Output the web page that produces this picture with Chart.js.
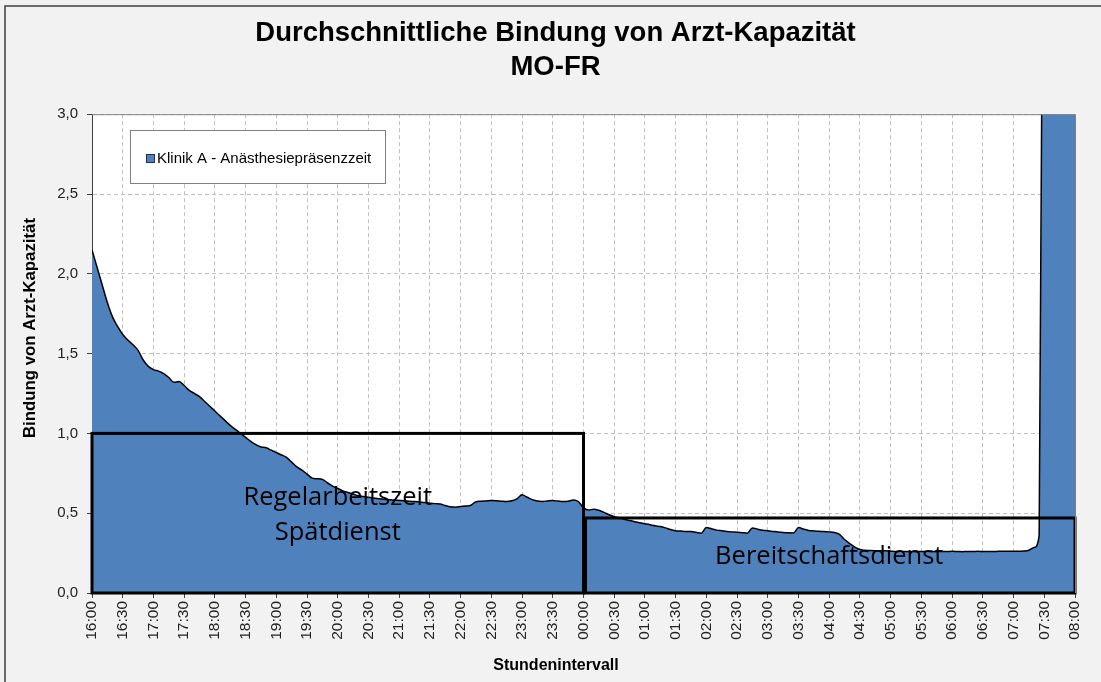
<!DOCTYPE html>
<html>
<head>
<meta charset="utf-8">
<script src="https://cdn.jsdelivr.net/npm/chart.js@4.4.1/dist/chart.umd.min.js"></script>
<style>
  html, body { margin: 0; padding: 0; background: #f2f2f2; }
  canvas { display: block; }
</style>
</head>
<body>
<canvas id="myChart" width="1101" height="682"></canvas>
<script>
// chart text
const titleLines = ['Durchschnittliche Bindung von Arzt-Kapazität', 'MO-FR'];
const yAxisTitle = 'Bindung von Arzt-Kapazität';
const xAxisTitle = 'Stundenintervall';
const seriesName = 'Klinik A - Anästhesiepräsenzzeit';
const yTickLabels = ['0,0', '0,5', '1,0', '1,5', '2,0', '2,5', '3,0'];

// 5-minute steps from 16:00 to 08:00
const times = [];
for (let m = 0; m <= 960; m += 5) {
  const h = (16 + Math.floor(m / 60)) % 24;
  times.push(String(h).padStart(2, '0') + ':' + String(m % 60).padStart(2, '0'));
}

// one row per hour (12 x 5 min)
const values = [
  2.15, 2.04, 1.93, 1.82, 1.73, 1.67, 1.62, 1.585, 1.555, 1.52, 1.46, 1.42,        // 16:00
  1.40, 1.39, 1.375, 1.35, 1.32, 1.325, 1.30, 1.27, 1.25, 1.23, 1.20, 1.17,        // 17:00
  1.14, 1.11, 1.08, 1.05, 1.025, 1.00, 0.975, 0.95, 0.93, 0.915, 0.91, 0.895,      // 18:00
  0.88, 0.865, 0.85, 0.82, 0.79, 0.77, 0.745, 0.72, 0.716, 0.712, 0.69, 0.67,      // 19:00
  0.655, 0.64, 0.63, 0.62, 0.61, 0.605, 0.60, 0.595, 0.59, 0.588, 0.585, 0.582,    // 20:00
  0.58, 0.578, 0.575, 0.573, 0.57, 0.567, 0.563, 0.56, 0.558, 0.548, 0.54, 0.538,  // 21:00
  0.542, 0.545, 0.55, 0.572, 0.575, 0.577, 0.579, 0.578, 0.575, 0.573, 0.578, 0.59,// 22:00
  0.615, 0.60, 0.585, 0.576, 0.574, 0.577, 0.579, 0.576, 0.573, 0.575, 0.582, 0.572,// 23:00
  0.535, 0.52, 0.525, 0.518, 0.505, 0.49, 0.478, 0.47, 0.462, 0.454, 0.447, 0.44,  // 00:00
  0.434, 0.428, 0.421, 0.416, 0.408, 0.398, 0.39, 0.388, 0.386, 0.385, 0.38, 0.375,// 01:00
  0.41, 0.402, 0.394, 0.39, 0.386, 0.383, 0.381, 0.378, 0.375, 0.408, 0.40, 0.393, // 02:00
  0.39, 0.386, 0.382, 0.379, 0.377, 0.376, 0.41, 0.40, 0.392, 0.389, 0.387, 0.385, // 03:00
  0.383, 0.379, 0.368, 0.335, 0.31, 0.288, 0.272, 0.268, 0.266, 0.265, 0.265, 0.264,// 04:00
  0.262, 0.26, 0.261, 0.26, 0.26, 0.259, 0.26, 0.261, 0.26, 0.259, 0.26, 0.26,     // 05:00
  0.261, 0.26, 0.259, 0.26, 0.26, 0.261, 0.26, 0.26, 0.26, 0.261, 0.262, 0.262,    // 06:00
  0.261, 0.262, 0.263, 0.268, 0.285, 0.36, 5.8, 5.9, 6.0, 6.0, 5.9, 5.8,           // 07:00
  5.8                                                                              // 08:00
];

// shift frames drawn over the area
const shiftFrom = ['16:00', '00:00'];
const shiftTo = ['00:00', '08:00'];
const shiftLevel = [1.0, 0.47];
const shiftText = [['Regelarbeitszeit', 'Spätdienst'], ['Bereitschaftsdienst']];
const shiftTextAt = ['20:00', '04:00'];
const shiftTextY = [[0.60, 0.376], [0.225]];

const font = '"Liberation Sans", Arial, sans-serif';

const frame = {
  id: 'frame',
  beforeDraw(chart) {
    const { ctx, width, height, chartArea: a } = chart;
    ctx.save();
    ctx.fillStyle = '#f2f2f2';
    ctx.fillRect(0, 0, width, height);
    ctx.fillStyle = '#ffffff';
    ctx.fillRect(a.left, a.top, a.right - a.left, a.bottom - a.top);
    ctx.strokeStyle = '#404040';
    ctx.lineWidth = 1.5;
    ctx.beginPath();
    ctx.moveTo(5, height);
    ctx.lineTo(5, 6);
    ctx.lineTo(width, 6);
    ctx.stroke();
    ctx.restore();
  },
  afterDraw(chart) {
    const { ctx, chartArea: a } = chart;
    ctx.save();
    ctx.strokeStyle = '#808080';
    ctx.lineWidth = 1;
    ctx.beginPath();
    ctx.moveTo(a.left, a.top + 0.5);
    ctx.lineTo(a.right + 0.5, a.top + 0.5);
    ctx.lineTo(a.right + 0.5, a.bottom);
    ctx.stroke();

    // axis titles
    ctx.fillStyle = '#000';
    ctx.textAlign = 'center';
    ctx.textBaseline = 'middle';
    ctx.font = 'bold 16px ' + font;
    ctx.fillText(xAxisTitle, 556, 666);
    ctx.font = 'bold 16.8px ' + font;
    ctx.translate(30, 328);
    ctx.rotate(-Math.PI / 2);
    ctx.fillText(yAxisTitle, 0, 0);
    ctx.restore();
  }
};

const shifts = {
  id: 'shifts',
  afterDatasetsDraw(chart) {
    const { ctx, scales: { x, y } } = chart;
    ctx.save();
    ctx.strokeStyle = '#000';
    ctx.lineWidth = 3;
    for (let i = 0; i < shiftFrom.length; i++) {
      const x0 = x.getPixelForValue(times.indexOf(shiftFrom[i]));
      const x1 = x.getPixelForValue(times.indexOf(shiftTo[i]));
      const y0 = y.getPixelForValue(0);
      const y1 = y.getPixelForValue(shiftLevel[i]);
      ctx.strokeRect(x0 + (i ? 2 : 0), y1, x1 - x0 - (i ? 2 : 0), y0 - y1);
    }
    ctx.fillStyle = '#000';
    ctx.font = '25.5px "Open Sans", ' + font;
    ctx.textAlign = 'center';
    ctx.textBaseline = 'middle';
    for (let i = 0; i < shiftText.length; i++) {
      const cx = x.getPixelForValue(times.indexOf(shiftTextAt[i]));
      shiftText[i].forEach((t, j) => ctx.fillText(t, cx, y.getPixelForValue(shiftTextY[i][j])));
    }
    ctx.restore();
  }
};

const legendBox = {
  id: 'legendBox',
  afterDatasetsDraw(chart) {
    const { ctx } = chart;
    const ds = chart.data.datasets[0];
    ctx.save();
    ctx.fillStyle = '#fff';
    ctx.fillRect(130, 130, 255, 53);
    ctx.strokeStyle = '#808080';
    ctx.lineWidth = 1;
    ctx.strokeRect(130.5, 130.5, 255, 53);
    ctx.fillStyle = ds.backgroundColor;
    ctx.fillRect(146, 154, 9, 9);
    ctx.strokeStyle = '#203050';
    ctx.strokeRect(146.5, 154.5, 8, 8);
    ctx.fillStyle = '#000';
    ctx.font = '15px ' + font;
    ctx.textBaseline = 'middle';
    ctx.fillText(ds.label, 157, 159);
    ctx.restore();
  }
};

new Chart(document.getElementById('myChart'), {
  type: 'line',
  data: {
    labels: times,
    datasets: [{
      label: seriesName,
      data: values,
      fill: 'origin',
      backgroundColor: '#4f81bd',
      borderColor: '#000',
      borderWidth: 1.5,
      pointRadius: 0,
      cubicInterpolationMode: 'monotone',
      clip: 0
    }]
  },
  options: {
    responsive: false,
    animation: false,
    layout: { padding: { left: 36, right: 26, top: 0, bottom: 0 } },
    plugins: {
      legend: { display: false },
      tooltip: { enabled: false },
      title: {
        display: true,
        text: titleLines,
        color: '#000',
        font: { family: font, size: 27.5, weight: 'bold', lineHeight: 1.24 },
        padding: { top: 16, bottom: 30 }
      }
    },
    scales: {
      x: {
        ticks: {
          autoSkip: false,
          maxRotation: 90,
          minRotation: 90,
          padding: 3,
          color: '#222',
          font: { family: font, size: 15.5 },
          callback(v, i) { return i % 6 === 0 ? this.getLabelForValue(v) : ''; }
        },
        grid: {
          color: c => (c.index % 6 === 0 ? '#c0c0c0' : 'transparent'),
          tickColor: c => (c.index % 6 === 0 ? '#404040' : 'transparent'),
          tickLength: 5
        },
        border: { color: '#606060', dash: [4, 3] },
        afterFit(s) { s.height = 89; }
      },
      y: {
        min: 0,
        max: 3,
        ticks: {
          stepSize: 0.5,
          padding: 9,
          color: '#222',
          font: { family: font, size: 15 },
          callback: v => yTickLabels[Math.round(v * 2)]
        },
        grid: { color: '#c0c0c0', tickColor: '#404040', tickLength: 5 },
        border: { color: '#404040', dash: [4, 3] },
        afterFit(s) { s.width = 56; }
      }
    }
  },
  plugins: [frame, shifts, legendBox]
});
</script>
</body>
</html>
